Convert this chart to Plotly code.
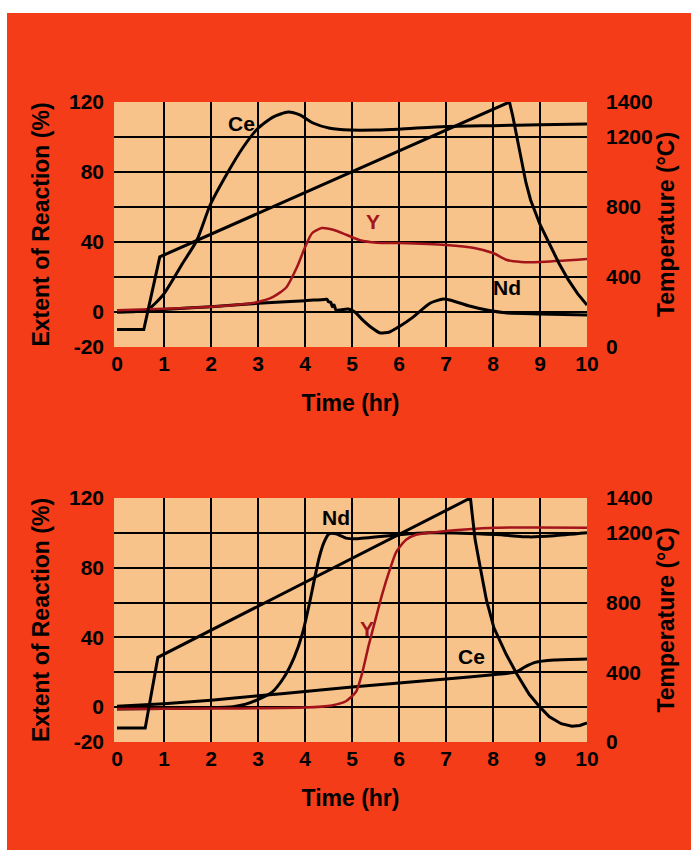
import plotly.graph_objects as go

# ---------------- data ----------------
hours = [0, 1, 2, 3, 4, 5, 6, 7, 8, 9, 10]
left_ticks = [-20, 0, 40, 80, 120]
left_grid = [0, 20, 40, 60, 80, 100]
right_ticks = [0, 400, 800, 1200, 1400]

# Top panel
temp_top_t = [0, 0.57, 0.91, 8.35, 8.42, 8.5, 8.6, 8.7, 8.8, 9.0, 9.2, 9.4, 9.6, 9.8, 10.0]
temp_top = [100, 100, 515, 1400, 1320, 1210, 1060, 940, 840, 700, 590, 480, 385, 305, 240]

ce_top_t = [0, 0.4, 0.66, 0.98, 1.4, 1.7, 1.98, 2.34, 2.68, 3.0, 3.32, 3.64, 3.89, 4.17,
            4.53, 4.96, 5.5, 6.0, 7.0, 8.0, 9.0, 10.0]
ce_top = [0, 0.3, 1.5, 9.7, 28, 41, 61, 79, 94, 105, 111.4, 114.3, 112.6, 108,
          105, 104, 104, 104.5, 106, 106.5, 107, 107.4]

y_top_t = [0, 1, 2, 2.5, 3.0, 3.32, 3.6, 3.83, 4.0, 4.15, 4.36, 4.6, 4.89, 5.17, 5.53,
           6.0, 7.0, 7.6, 8.0, 8.3, 8.6, 9.0, 10.0]
y_top = [1, 1.8, 3, 4, 5.7, 8.6, 14, 25.7, 37, 45, 48, 47, 44, 41, 39.6,
         39.4, 38.3, 36.6, 33.7, 29.7, 28.6, 28.6, 30.3]

nd_top_t = [0, 1, 2, 3, 4, 4.42, 4.47, 4.5, 4.55, 4.58, 4.62, 4.66, 4.74, 4.92, 5.06, 5.23,
            5.42, 5.6, 5.8, 6.0, 6.3, 6.66, 6.94, 7.08, 7.5, 7.87, 8.3, 9.0, 10.0]
nd_top = [0, 1.5, 3, 5, 6.5, 7.2, 7.2, 5.8, 5.5, 3, 4, 1, 1.2, 1.7, 0, -4.6,
          -9, -12, -11.4, -8.4, -2.9, 5, 7.4, 6.9, 3.4, 1.1, -0.6, -1.1, -1.7]

# Bottom panel
temp_bot_t = [0, 0.6, 0.87, 7.52, 7.56, 7.62, 7.73, 7.86, 8.02, 8.28, 8.51, 8.77, 9.0,
              9.2, 9.45, 9.68, 9.85, 10.0]
temp_bot = [80, 80, 486, 1400, 1300, 1160, 1000, 815, 655, 503, 389, 274, 200,
            145, 105, 90, 95, 110]

nd_bot_t = [0, 1, 2, 2.47, 2.74, 3.02, 3.3, 3.55, 3.77, 3.94, 4.09, 4.19, 4.3, 4.4, 4.51,
            4.66, 4.87, 5.09, 6.0, 6.64, 8.06, 8.77, 9.3, 10.0]
nd_bot = [-1, -0.8, -0.3, 0.3, 1.7, 4.6, 8.6, 17, 28.6, 41.7, 58.9, 72, 85.7, 94.3, 99.4,
          99.4, 97, 96.6, 98.9, 100, 99, 97.7, 98.3, 100]

y_bot_t = [0, 2, 4, 4.57, 4.87, 5.09, 5.21, 5.36, 5.51, 5.64, 5.79, 5.94, 6.15, 6.36,
           6.85, 8.06, 10.0]
y_bot = [-1, -0.8, -0.2, 1, 3.4, 9, 18.9, 36, 51.4, 64.6, 77.7, 89, 96, 98.9,
         100.6, 102.9, 103]

ce_bot_t = [0, 1, 2, 3, 4, 5, 6, 7, 8, 8.5, 8.7, 8.9, 9.3, 10]
ce_bot = [0.5, 2, 4, 6.5, 9, 11.5, 13.8, 16.2, 18.6, 20.3, 23.4, 25.7, 27, 27.6]

labels_top = [("Ce", 2.65, 108, "black"), ("Y", 5.45, 52, "#a3141a"), ("Nd", 8.3, 14, "black")]
labels_bot = [("Nd", 4.66, 109, "black"), ("Y", 5.32, 45, "#a3141a"), ("Ce", 7.55, 29, "black")]

# ---------------- style ----------------
RED = "#f43c18"
PEACH = "#f8c28b"
YRED = "#a3141a"
FONT = "Liberation Sans, Arial, sans-serif"

fig = go.Figure()

def curve(x, y, xa, ya, color, width=3.0, shape="spline"):
    fig.add_trace(go.Scatter(x=x, y=y, xaxis=xa, yaxis=ya, mode="lines",
                             line=dict(color=color, width=width, shape=shape, smoothing=0.6),
                             showlegend=False, hoverinfo="skip"))

curve(temp_top_t, temp_top, "x", "y2", "black", shape="linear")
curve(ce_top_t, ce_top, "x", "y", "black")
curve(nd_top_t, nd_top, "x", "y", "black")
curve(y_top_t, y_top, "x", "y", YRED, width=2.5)

curve(temp_bot_t, temp_bot, "x2", "y4", "black", shape="linear")
curve(ce_bot_t, ce_bot, "x2", "y3", "black")
curve(nd_bot_t, nd_bot, "x2", "y3", "black")
curve(y_bot_t, y_bot, "x2", "y3", YRED, width=2.5)

tickfont = dict(family=FONT, size=21, color="black", weight="bold")
titlefont = dict(family=FONT, size=23, color="black", weight="bold")

def xax(anchor):
    return dict(domain=[0, 1], anchor=anchor, range=[-0.064, 10],
                tickmode="array", tickvals=hours, ticktext=[str(h) for h in hours],
                showgrid=False, zeroline=False, showline=False, ticks="",
                tickfont=tickfont, ticklabelstandoff=2,
                minor=dict(tickvals=hours[1:-1], showgrid=True, gridcolor="black",
                           gridwidth=2.4, ticks=""),
                title=dict(text="Time (hr)", font=titlefont, standoff=20))

def yleft(domain, anchor):
    return dict(domain=domain, anchor=anchor, range=[-20, 120],
                tickmode="array", tickvals=left_ticks, ticktext=[str(v) for v in left_ticks],
                showgrid=False, zeroline=False, showline=False, ticks="",
                tickfont=tickfont, ticklabelstandoff=9,
                minor=dict(tickvals=left_grid, showgrid=True, gridcolor="black",
                           gridwidth=2.4, ticks=""),
                title=dict(text="Extent of Reaction (%)", font=titlefont, standoff=12))

def yright(overlay, anchor):
    return dict(overlaying=overlay, anchor=anchor, side="right", range=[0, 1400],
                tickmode="array", tickvals=right_ticks, ticktext=[str(v) for v in right_ticks],
                showgrid=False, zeroline=False, showline=False, ticks="",
                tickfont=tickfont, ticklabelstandoff=18,
                title=dict(text="Temperature (°C)", font=titlefont, standoff=6))

W, H = 691, 855
L, R, T, B = 114, 104, 102, 113
ph = H - T - B  # 640

fig.update_layout(
    width=W, height=H,
    margin=dict(l=L, r=R, t=T, b=B, pad=0),
    paper_bgcolor=RED, plot_bgcolor=PEACH,
    xaxis=xax("y"),
    xaxis2=xax("y3"),
    yaxis=yleft([1 - 245 / ph, 1], "x"),
    yaxis2=yright("y", "x"),
    yaxis3=yleft([0, 244 / ph], "x2"),
    yaxis4=yright("y3", "x2"),
)

pw = W - L - R

def px_x(p):
    return (p - L) / pw

def px_y(p):
    return (H - B - p) / ph

# white scan border strips (outside the plot areas)
for x0, y0, x1, y1 in [(0, 0, 7, H), (0, 0, W, 13), (0, 850, W, H)]:
    fig.add_shape(type="rect", xref="paper", yref="paper",
                  x0=px_x(x0), x1=px_x(x1), y0=px_y(y0), y1=px_y(y1),
                  fillcolor="white", line=dict(width=0), layer="above")

for lbls, xr, yr in [(labels_top, "x", "y"), (labels_bot, "x2", "y3")]:
    for txt, x, y, col in lbls:
        fig.add_annotation(x=x, y=y, xref=xr, yref=yr, text=txt, showarrow=False,
                           font=dict(family=FONT, size=21, color=col, weight="bold"))

fig.write_html("out.html")
